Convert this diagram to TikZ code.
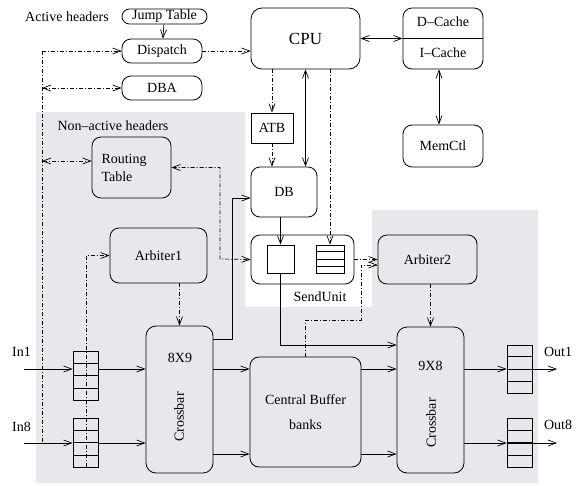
\documentclass[tikz,border=0pt]{standalone}
\usepackage{fontspec}
\setmainfont{Liberation Serif}
\usetikzlibrary{arrows.meta,calc}
\definecolor{regiongrey}{RGB}{232,232,236}

\begin{document}
\begin{tikzpicture}[x=1pt,y=-1pt,line width=0.7pt,
  font=\fontsize{14}{16}\selectfont,
  >={Straight Barb[length=8pt,width=6pt]},
  unit/.style={rectangle,draw,rounded corners=9pt,line width=0.8pt,inner sep=0pt},
  fifo/.style={rectangle,draw,line width=0.8pt,inner sep=0pt,minimum width=25,minimum height=49},
  ctrl/.style={dash pattern=on 4pt off 2pt on 1pt off 2pt}]
\useasboundingbox (0,0) rectangle (576,485);
\fill[white] (0,0) rectangle (576,485);
% Shaded regions
\fill[regiongrey] (36,112) -- (245,112) -- (245,307) -- (372,307) -- (372,210)
  -- (538,210) -- (538,483) -- (36,483) -- cycle;

% Active headers
\node (active) at (67,16.5) {Active headers};
\node[unit,rounded corners=7.5pt,minimum width=85,minimum height=15] (jump) at (164.5,16.5) {Jump Table};
\node[unit,minimum width=80,minimum height=24] (dispatch) at (162,51) {Dispatch};
\node[unit,minimum width=80,minimum height=24] (dba) at (162,88) {DBA};

% Processor
\node[unit,rounded corners=11pt,minimum width=109,minimum height=61,font=\fontsize{17}{19}\selectfont] (cpu) at (305.5,38.5) {CPU};
\node[unit,minimum width=80,minimum height=61] (cache) at (443,38.5) {};
\node (dcache) at (443,22) {D--Cache};
\node (icache) at (443,53) {I--Cache};
\draw[line width=0.8pt] (cache.west) -- (cache.east);
\node[unit,minimum width=80,minimum height=42] (memctl) at (443,146) {MemCtl};
\node[rectangle,draw,line width=0.8pt,minimum width=42,minimum height=30] (atb) at (272,128) {ATB};
\node[unit,minimum width=66,minimum height=50] (db) at (284,192) {DB};

% Send unit
\node[unit,minimum width=103,minimum height=49] (send) at (302.5,259.5) {};
\node[fifo,minimum width=27,minimum height=28] (slot) at (280.5,259) {};
\node[fifo,minimum width=28,minimum height=28] (queue) at (330,259) {};
\node (sendlabel) at (320,297) {SendUnit};

% Non-active headers
\node (nonactive) at (113,126) {Non--active headers};
\node[unit,minimum width=79,minimum height=61,text width=60,align=left] (routing) at (131.5,167.5) {Routing\\[2pt]Table};
\node[unit,minimum width=97,minimum height=55] (arb1) at (158.5,255.5) {Arbiter1};
\node[unit,minimum width=99,minimum height=49] (arb2) at (427.5,259.5) {Arbiter2};

% Switch fabric
\node[unit,rounded corners=10pt,minimum width=67,minimum height=147] (xbar1) at (179.5,399.5) {};
\node (size1) at (180,358) {8X9};
\node[rotate=90] (xname1) at (179,417) {Crossbar};
\node[unit,minimum width=111,minimum height=110,align=center] (central) at (305.5,412) {Central Buffer\\[9pt]banks};
\node[unit,rounded corners=10pt,minimum width=67,minimum height=146] (xbar2) at (430.5,400) {};
\node (size2) at (430.5,366) {9X8};
\node[rotate=90] (xname2) at (431,423) {Crossbar};

% Port buffers
\node[fifo] (inbuf1) at (85.5,375.5) {};
\node[fifo] (inbuf8) at (85.5,442.5) {};
\node[fifo,minimum height=48] (outbuf1) at (519.5,369) {};
\node[fifo] (outbuf8) at (519.5,442.5) {};
\foreach \b in {inbuf1,inbuf8,outbuf1,outbuf8,queue}
  \foreach \i in {1,2,3}
    \draw[line width=0.8pt] ($(\b.north west)!\i/4!(\b.south west)$) -- ($(\b.north east)!\i/4!(\b.south east)$);

% Ports
\node (in1) at (21.5,352) {In1};
\node (in8) at (21.5,427) {In8};
\node (out1) at (558,352) {Out1};
\node (out8) at (558,425) {Out8};
\coordinate (src1) at (24,369);
\coordinate (src8) at (24,443);
\coordinate (dst1) at (557,369);
\coordinate (dst8) at (557,443);
\coordinate (hdrtop) at (42,51);
\coordinate (hdrbot) at (42,443);
\coordinate (arbbot) at (86,467);

% Control arrows
\draw[->] (jump) -- (dispatch);
\draw[ctrl] (hdrtop) -- (hdrbot);
\draw[ctrl,->] (hdrtop) -- (dispatch.west);
\draw[ctrl,<->] (hdrtop |- dba) -- (dba.west);
\draw[ctrl,<->] (hdrtop |- 0,161) -- (routing.west |- 0,161);
\draw[ctrl,->] (dispatch.east) -- (dispatch.east -| cpu.west);
\draw[ctrl,->] (cpu.south -| atb) -- (atb.north);
\draw[ctrl,->] (atb.south) -- (atb.south |- db.north);
\draw[ctrl,->] (cpu.south -| queue) -- (queue.north);
\draw[ctrl,<->] (routing.east) -| (220,259) -- (send.west);
\draw[ctrl,->] (arbbot) |- (arb1.west);
\draw[ctrl,->] (arb1.south -| xbar1.north) -- (xbar1.north);
\draw[ctrl,->] (send.east) -- (arb2.west);
\draw[ctrl,->] (central.north) |- (361,320) |- (arb2.west |- 0,265);
\draw[ctrl,->] (arb2.south -| xbar2.north) -- (xbar2.north);

% Data paths
\draw[<->] (cpu.east) -- (cache.west);
\draw[<->] ([xshift=-4pt]cache.south) -- ([xshift=-4pt]memctl.north);
\draw[<->] (cpu.south) -- (cpu.south |- db.north);
\draw[->] (slot.north |- db.south) -- (slot.north);
\draw[->] (xbar1.east |- 0,339) -- (232,339) |- (db.west |- 0,198);
\draw[->] (slot.south) |- (xbar2.west |- 0,345);
\draw[->] (src1) -- (inbuf1.west |- src1);
\draw[->] (inbuf1.east |- src1) -- (xbar1.west |- src1);
\draw[->] (src8) -- (inbuf8.west |- src8);
\draw[->] (inbuf8.east |- src8) -- (xbar1.west |- src8);
\draw[->] (xbar1.east |- 0,369) -- (central.west |- 0,369);
\draw[->] (xbar1.east |- 0,454) -- (central.west |- 0,454);
\draw[->] (central.east |- 0,369) -- (xbar2.west |- 0,369);
\draw[->] (central.east |- 0,454) -- (xbar2.west |- 0,454);
\draw[->] (xbar2.east |- outbuf1) -- (outbuf1.west);
\draw[->] (outbuf1.west) -- (dst1);
\draw[->] (xbar2.east |- dst8) -- (outbuf8.west |- dst8);
\draw[->] (outbuf8.west |- dst8) -- (dst8);
\end{tikzpicture}
\end{document}
